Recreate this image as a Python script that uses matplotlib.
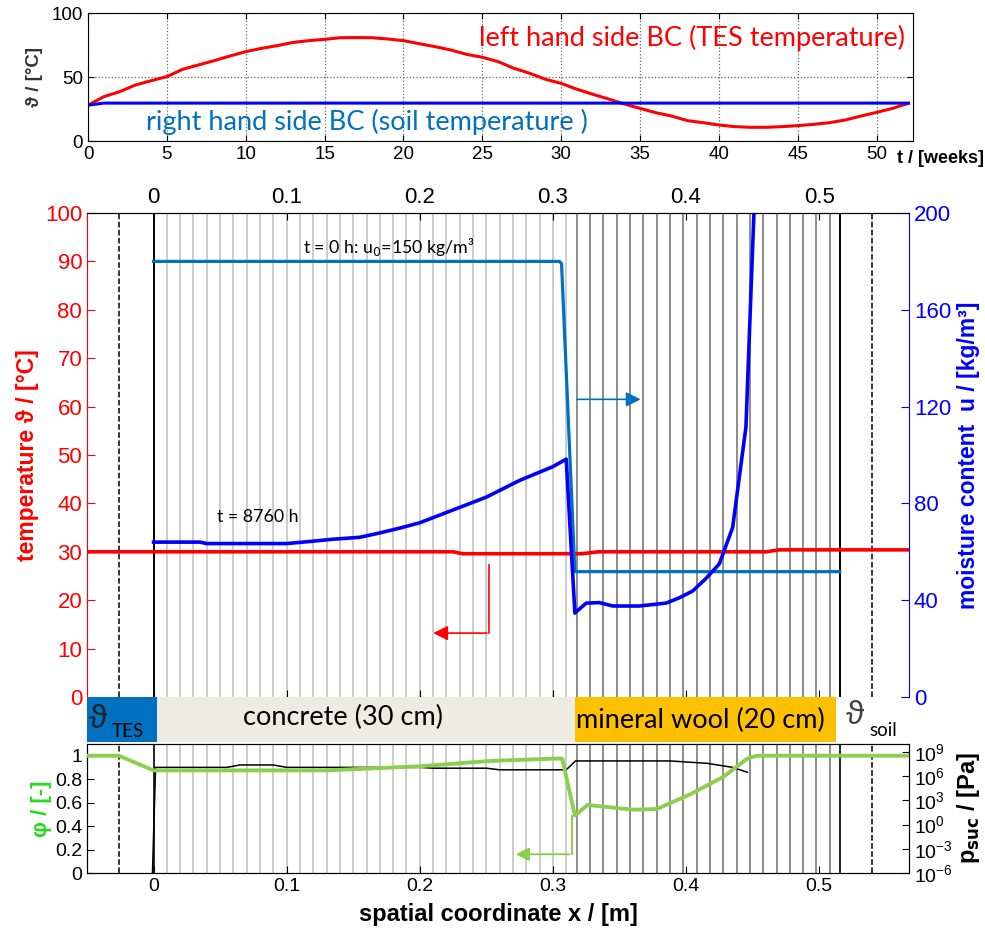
import numpy as np
import matplotlib
matplotlib.use("Agg")
import matplotlib.pyplot as plt
from matplotlib.patches import Rectangle

plt.rcParams['font.family'] = ['Liberation Sans', 'DejaVu Sans']
CAL = ['Lato', 'DejaVu Sans']

# ---------------- data ----------------
weeks = list(range(0, 53))
T_tes = [28, 34.6, 38.5, 43.7, 47.1, 50.3, 56, 59.4, 62.8, 66.4, 69.8, 72.4, 74.5, 77,
         78.4, 79.4, 80.7, 80.8, 80.7, 79.7, 78.4, 76, 73.7, 71.1, 67.7, 65.4, 62,
         56.8, 52.9, 48.2, 45, 40.4, 36.5, 32.8, 28.9, 25.5, 22.1, 19.5, 15.9, 14.3,
         12.5, 11.2, 10.7, 10.7, 11.2, 12, 13, 14.3, 16.4, 19.5, 22.4, 25.5, 29.4]
weeks_soil = [0, 1, 52]
T_soil = [28, 29.6, 29.6]

x_T = [-0.05, 0.225, 0.232, 0.322, 0.334, 0.46, 0.47, 0.5675]
T_end = [30, 30, 29.6, 29.6, 30.0, 30.0, 30.4, 30.4]

x_u0 = [0, 0.305, 0.3065, 0.3165, 0.5155]
u0 = [180, 180, 179, 51.8, 51.8]

x_u = [0, 0.035, 0.04, 0.1, 0.12, 0.135, 0.155, 0.17, 0.185, 0.2, 0.225, 0.25, 0.275,
       0.3, 0.31, 0.3165, 0.325, 0.335, 0.345, 0.365, 0.385, 0.395, 0.405, 0.415,
       0.425, 0.435, 0.445, 0.451, 0.455]
u_end = [64, 64, 63.4, 63.4, 64.4, 65.2, 66, 67.8, 69.8, 72, 77.3, 82.6, 89.5,
         95.2, 98.3, 34.7, 38.8, 39, 37.6, 37.6, 38.8, 41, 43.8, 49,
         55, 70, 111.5, 200, 260]

x_phi = [-0.05, -0.026, 0.0, 0.13, 0.16, 0.2, 0.235, 0.2526, 0.3, 0.307, 0.3165,
         0.326, 0.36, 0.378, 0.403, 0.428, 0.446, 0.453, 0.5675]
phi = [1.0, 1.0, 0.875, 0.875, 0.89, 0.91, 0.94, 0.955, 0.975, 0.975, 0.49,
       0.58, 0.54, 0.545, 0.67, 0.82, 0.975, 1.0, 1.0]

x_p = [-0.001, 0.0015, 0.055, 0.065, 0.09, 0.1, 0.2, 0.21, 0.25, 0.26, 0.28, 0.31,
       0.317, 0.388, 0.416, 0.435, 0.446]
log_psuc = [-7, 7.1, 7.1, 7.4, 7.4, 7.1, 7.1, 7.0, 7.0, 6.8, 6.8, 6.8,
            7.9, 7.9, 7.6, 7.1, 6.5]
psuc = [10.0 ** v for v in log_psuc]

mesh_concrete = [0.01 * i for i in range(1, 32)]
mesh_wool = [0.318 + 0.01 * i for i in range(0, 20)]
boundaries_solid = [0.0, 0.516]
boundaries_dashed = [-0.026, 0.54]

layers = [(-0.05, 0.0023, '#0070C0'), (0.0023, 0.3165, '#EEECE1'), (0.3165, 0.5125, '#FFC000')]

XL = (-0.05, 0.5675)

# ---------------- figure ----------------
fig = plt.figure(figsize=(9.85, 9.36), dpi=100)

def px(l, t, r, b):
    W, H = 985, 936
    return [l / W, 1 - b / H, (r - l) / W, (b - t) / H]

# ---- top panel ----
ax1 = fig.add_axes(px(88, 13, 913, 141))
ax1.plot(weeks, T_tes, color='red', lw=2.2)
ax1.plot(weeks_soil, T_soil, color='#0000FF', lw=2.2)
ax1.set_xlim(0, 52.3)
ax1.set_ylim(0, 100)
ax1.set_xticks(range(0, 51, 5))
ax1.set_yticks([0, 50, 100])
ax1.grid(True, color='#666666', ls=':', lw=0.9)
ax1.tick_params(direction='in', top=True, right=True, labelsize=13.5, length=4)
ax1.set_ylabel('ϑ / [°C]', fontsize=13.5, fontweight='bold', color='#333333', labelpad=6)
ax1.text(38.3, 80.5, 'left hand side BC (TES temperature)', color='red', fontsize=19.5,
         family=CAL, ha='center', va='center')
ax1.text(17.7, 14.5, 'right hand side BC (soil temperature )', color='#0070C0', fontsize=19.5,
         family=CAL, ha='center', va='center')
fig.text(897 / 985, 1 - 158 / 936, 't / [weeks]', fontsize=13, fontweight='bold',
         ha='left', va='center')

# ---- middle panel ----
ax2 = fig.add_axes(px(87, 213, 909, 697))
for xm in mesh_concrete:
    ax2.axvline(xm, color='#cccccc', lw=1.4, zorder=1)
for xm in mesh_wool:
    ax2.axvline(xm, color='#8c8c8c', lw=1.4, zorder=1)
for xb in boundaries_solid:
    ax2.axvline(xb, color='black', lw=1.4, zorder=2)
for xb in boundaries_dashed:
    ax2.axvline(xb, color='black', lw=1.1, ls='--', zorder=2)
ax2.plot(x_T, T_end, color='red', lw=2.6, zorder=5)
ax2.set_xlim(*XL)
ax2.set_ylim(0, 100)
ax2.set_yticks(range(0, 101, 10))
ax2.set_xticks([0, 0.1, 0.2, 0.3, 0.4, 0.5])
ax2.set_xticklabels(['0', '0.1', '0.2', '0.3', '0.4', '0.5'])
ax2.tick_params(axis='x', direction='in', top=True, bottom=True, labeltop=True,
                labelbottom=False, labelsize=16, length=5)
ax2.tick_params(axis='y', direction='in', colors='red', labelsize=16, length=6)
ax2.spines['left'].set_color('red')
ax2.spines['bottom'].set_visible(False)
ax2.spines['right'].set_visible(False)
ax2.set_ylabel('temperature ϑ / [°C]', color='red', fontsize=16.5, fontweight='bold',
               labelpad=4)
# red arrow
ax2.plot([0.252, 0.252], [27.3, 13.2], color='red', lw=1.2, zorder=6)
ax2.annotate('', xy=(0.208, 13.2), xytext=(0.2525, 13.2),
             arrowprops=dict(arrowstyle='-|>', color='red', lw=1.2, mutation_scale=22),
             zorder=6)

ax2r = ax2.twinx()
ax2r.set_xlim(*XL)
ax2r.plot(x_u0, u0, color='#0070C0', lw=2.3)
ax2r.plot(x_u, u_end, color='#0000FF', lw=2.6)
ax2r.set_ylim(0, 200)
ax2r.set_yticks([0, 40, 80, 120, 160, 200])
ax2r.tick_params(axis='y', direction='in', colors='#0000FF', labelsize=16, length=6)
ax2r.spines['right'].set_color('#0000FF')
ax2r.spines['left'].set_visible(False)
ax2r.spines['bottom'].set_visible(False)
ax2r.set_ylabel('moisture content  u / [kg/m³]', color='#0000FF', fontsize=16.5,
                fontweight='bold', labelpad=4)
ax2r.annotate('', xy=(0.368, 123), xytext=(0.316, 123),
              arrowprops=dict(arrowstyle='-|>', color='#0070C0', lw=1.2, mutation_scale=22))
ax2r.text(0.177, 186, 't = 0 h: u$_0$=150 kg/m³', fontsize=12.8, family=CAL,
          ha='center', va='center')
ax2r.text(0.078, 74.5, 't = 8760 h', fontsize=12.8, family=CAL, ha='center', va='center')

# ---- material bar ----
axm = fig.add_axes(px(87, 697, 909, 742))
axm.set_xlim(*XL)
axm.set_ylim(0, 1)
for x0, x1, c in layers:
    axm.add_patch(Rectangle((x0, 0), x1 - x0, 1, color=c, lw=0))
axm.axis('off')
axm.text(0.142, 0.55, 'concrete (30 cm)', fontsize=19.5, family=CAL, ha='center', va='center')
axm.text(0.411, 0.47, 'mineral wool (20 cm)', fontsize=19.5, family=CAL, ha='center', va='center')
axm.text(-0.049, 0.50, 'ϑ', fontsize=24, color='#222222', ha='left', va='center')
axm.text(-0.0315, 0.24, 'TES', fontsize=13.5, family=CAL, ha='left', va='center')
axm.text(0.520, 0.58, 'ϑ', fontsize=24, color='#444444', ha='left', va='center')
axm.text(0.5375, 0.26, 'soil', fontsize=13.5, family=CAL, ha='left', va='center')

# ---- bottom panel ----
ax3 = fig.add_axes(px(87, 744, 909, 873))
for xm in mesh_concrete:
    ax3.axvline(xm, color='#cccccc', lw=1.4, zorder=1)
for xm in mesh_wool:
    ax3.axvline(xm, color='#8c8c8c', lw=1.4, zorder=1)
for xb in boundaries_solid:
    ax3.axvline(xb, color='black', lw=1.2, zorder=2)
for xb in boundaries_dashed:
    ax3.axvline(xb, color='black', lw=1.1, ls='--', zorder=2)
ax3.set_xlim(*XL)
ax3.set_ylim(0, 1.1)
ax3.set_yticks([0, 0.2, 0.4, 0.6, 0.8, 1])
ax3.set_yticklabels(['0', '0.2', '0.4', '0.6', '0.8', '1'])
ax3.set_xticks([0, 0.1, 0.2, 0.3, 0.4, 0.5])
ax3.set_xticklabels(['0', '0.1', '0.2', '0.3', '0.4', '0.5'])
ax3.tick_params(direction='in', labelsize=14, length=5)
ax3.set_xlabel('spatial coordinate x / [m]', fontsize=17, fontweight='bold', labelpad=6)
ax3.set_ylabel('φ / [-]', color='#22dd22', fontsize=16, fontweight='bold', labelpad=2)

ax3r = ax3.twinx()
ax3r.set_xlim(*XL)
ax3r.plot(x_p, psuc, color='black', lw=1.1, zorder=3)
ax3r.set_yscale('log')
ax3r.set_ylim(1e-6, 1e10)
ax3r.set_yticks([1e-6, 1e-3, 1e0, 1e3, 1e6, 1e9])
ax3r.minorticks_off()
ax3r.tick_params(direction='in', labelsize=14, length=5)
ax3r.set_ylabel('p$_{\\mathbf{suc}}$ / [Pa]', fontsize=17, fontweight='bold', labelpad=2)

# phi on top
ax3t = ax3.twinx()
ax3t.set_ylim(0, 1.1)
ax3t.set_xlim(*XL)
ax3t.plot(x_phi, phi, color='#8ccf4f', lw=2.8, zorder=5)
ax3t.plot([0.314, 0.314], [0.49, 0.16], color='#8ccf4f', lw=1.4)
ax3t.annotate('', xy=(0.270, 0.16), xytext=(0.3145, 0.16),
              arrowprops=dict(arrowstyle='-|>', color='#8ccf4f', lw=1.4, mutation_scale=20))
ax3t.axis('off')

fig.savefig('out.png', dpi=100)
